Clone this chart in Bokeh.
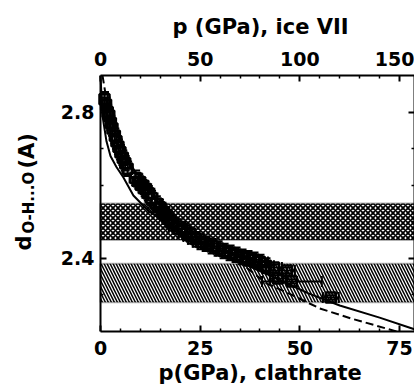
import numpy as np
from bokeh.plotting import figure
from bokeh.models import (Range1d, LinearAxis, FixedTicker, Label, ColumnDataSource, Title,
                          Whisker, TeeHead, BoxAnnotation, CustomJSTickFormatter)
from bokeh.embed import file_html
from bokeh.resources import INLINE

# ---------------- data ----------------
p_clath = [1.0, 1.4, 1.8, 2.2, 2.6, 3.0,
           3.6, 4.0, 4.5, 5.0, 5.6, 6.2, 6.8,
           8.8, 9.6, 10.4, 11.2, 12.0, 12.8,
           14.0, 14.8, 15.6, 16.4, 17.2, 18.0,
           19.2, 20.4, 21.6, 22.8, 24.0, 25.2,
           26.5, 28.0, 29.5, 31.0, 32.5, 34.0, 35.5, 37.0, 38.5, 40.0, 41.5,
           43.5, 44.5, 46.75, 48.0, 57.75]
d_oho = [2.835, 2.82, 2.80, 2.79, 2.77, 2.755,
         2.735, 2.72, 2.705, 2.69, 2.675, 2.66, 2.645,
         2.62, 2.61, 2.60, 2.59, 2.578, 2.565,
         2.55, 2.54, 2.528, 2.518, 2.507, 2.497,
         2.487, 2.48, 2.47, 2.46, 2.452, 2.445,
         2.44, 2.433, 2.427, 2.42, 2.415, 2.41, 2.404, 2.40, 2.396, 2.39, 2.38,
         2.375, 2.345, 2.367, 2.337, 2.293]
p_err = [0.8, 0.8, 0.8, 0.8, 0.8, 0.8,
         1.0, 1.0, 1.0, 1.0, 1.0, 1.0, 1.0,
         1.5, 1.5, 1.5, 1.5, 1.5, 1.5,
         1.5, 1.5, 1.5, 1.5, 1.5, 1.5,
         2.0, 2.0, 2.0, 2.0, 2.0, 2.0,
         2.0, 2.0, 2.0, 2.0, 2.0, 2.0, 2.0, 2.0, 2.0, 2.0, 2.0,
         2.0, 2.0, 2.0, 7.5, 2.0]
d_err = [0.02] * 42 + [0.008, 0.008, 0.008, 0.006, 0.006]

solid_p = [0.0, 0.5, 1.5, 2.5, 4.0, 5.75, 8.25, 12.0, 16.0, 20.0, 25.0, 30.0, 36.0, 40.0,
           44.25, 52.0, 60.0, 70.0, 78.75]
solid_d = [2.9, 2.79, 2.72, 2.68, 2.65, 2.621, 2.572, 2.53, 2.50, 2.47, 2.44, 2.41, 2.385, 2.365,
           2.345, 2.305, 2.271, 2.238, 2.206]

dashed_p = [0.5, 1.25, 2.5, 4.0, 6.0, 9.0, 12.0, 16.0, 20.0, 25.0, 30.0, 36.0, 41.75,
            48.0, 55.0, 63.0, 71.75, 75.0]
dashed_d = [2.9, 2.85, 2.79, 2.74, 2.69, 2.63, 2.58, 2.53, 2.49, 2.45, 2.42, 2.38, 2.331,
            2.30, 2.263, 2.235, 2.208, 2.198]

band_cross = [2.45, 2.55]
band_diag = [2.28, 2.385]

x_bottom_ticks = [0, 25, 50, 75]
x_bottom_minor = [5, 10, 15, 20, 30, 35, 40, 45, 55, 60, 65, 70]
x_top_ticks = [0, 50, 100, 150]
x_top_minor = [10, 20, 30, 40, 60, 70, 80, 90, 110, 120, 130, 140]
y_ticks = [2.4, 2.8]
y_minor = [2.3, 2.5, 2.6, 2.7]

# ---------------- layout constants ----------------
X_MAX = 78.75
Y_MIN, Y_MAX = 2.2, 2.9
FRAME_W, FRAME_H = 414, 256
AXIS_PX = 100                      # screen x of p = 0 (the visible left frame edge)
X_START = -X_MAX * AXIS_PX / (FRAME_W - AXIS_PX)
PX_PER_P = FRAME_W / (X_MAX - X_START)
FONT = "DejaVu Sans"

p = figure(width=416, height=391, frame_width=FRAME_W, frame_height=FRAME_H,
           output_backend="svg", toolbar_location=None,
           x_range=Range1d(X_START, X_MAX), y_range=Range1d(Y_MIN, Y_MAX),
           min_border_left=0, min_border_right=0, min_border_top=75, min_border_bottom=60,
           background_fill_color="white", border_fill_color="white")
p.title.visible = False
p.extra_x_ranges = {"top": Range1d(2 * X_START, 2 * X_MAX)}
p.xgrid.visible = False
p.ygrid.visible = False
p.outline_line_color = None

# bands
p.add_layout(BoxAnnotation(left=0, bottom=band_cross[0], top=band_cross[1], level="underlay",
                           fill_color=None, line_color="black", line_width=2,
                           hatch_pattern="diagonal_cross", hatch_color="black",
                           hatch_scale=5, hatch_weight=1.8))
p.add_layout(BoxAnnotation(left=0, bottom=band_diag[0], top=band_diag[1], level="underlay",
                           fill_color=None, line_color="black", line_width=2,
                           hatch_pattern="left_diagonal_line", hatch_color="black",
                           hatch_scale=6, hatch_weight=1.5))

# curves
p.line(solid_p, solid_d, line_color="black", line_width=2)
p.line(dashed_p, dashed_d, line_color="black", line_width=2, line_dash="8 4")

# data with error bars
pa = np.array(p_clath)
da = np.array(d_oho)
pe = np.array(p_err)
de = np.array(d_err)
src = ColumnDataSource(dict(p=pa, d=da, plo=pa - pe, phi=pa + pe, dlo=da - de, dhi=da + de))
p.add_layout(Whisker(source=src, base="d", lower="plo", upper="phi", dimension="width",
                     line_color="black", line_width=2, level="glyph",
                     upper_head=TeeHead(size=11, line_width=2, line_color="black"),
                     lower_head=TeeHead(size=11, line_width=2, line_color="black")))
p.add_layout(Whisker(source=src, base="p", lower="dlo", upper="dhi", dimension="height",
                     line_color="black", line_width=2, level="glyph",
                     upper_head=TeeHead(size=9, line_width=2, line_color="black"),
                     lower_head=TeeHead(size=9, line_width=2, line_color="black")))
p.scatter("p", "d", source=src, marker="square", size=10, fill_color=None,
          line_color="black", line_width=2.5)


def style(ax):
    ax.axis_line_width = 2
    ax.axis_line_color = "black"
    ax.major_tick_in = 6
    ax.major_tick_out = 0
    ax.minor_tick_in = 3
    ax.minor_tick_out = 0
    ax.major_tick_line_width = 2
    ax.minor_tick_line_width = 1.5
    ax.major_label_text_font = FONT
    ax.major_label_text_font_style = "bold"
    ax.major_label_text_font_size = "19px"
    ax.major_label_text_color = "black"


xb = p.xaxis[0]
xb.ticker = FixedTicker(ticks=x_bottom_ticks, minor_ticks=x_bottom_minor)
xb.bounds = (0, X_MAX)
style(xb)
xb.major_label_standoff = 9

yl = p.yaxis[0]
yl.ticker = FixedTicker(ticks=y_ticks, minor_ticks=y_minor)
yl.fixed_location = 0
style(yl)
yl.major_label_standoff = 6

xt = LinearAxis(x_range_name="top")
xt.ticker = FixedTicker(ticks=x_top_ticks, minor_ticks=x_top_minor)
xt.bounds = (0, 2 * X_MAX)
style(xt)
xt.major_label_standoff = 10
p.add_layout(xt, "above")

yr = LinearAxis()
yr.ticker = FixedTicker(ticks=y_ticks, minor_ticks=y_minor)
style(yr)
yr.formatter = CustomJSTickFormatter(code="return ''")
yr.major_label_standoff = 0
p.add_layout(yr, "right")

# axis titles, left-aligned with a pixel offset so they sit centred over the visible frame
p.add_layout(Title(text="p (GPa), ice VII", align="left", offset=172, standoff=19,
                   text_font=FONT, text_font_style="bold", text_font_size="21px",
                   text_color="black"), "above")
p.add_layout(Title(text="p(GPa), clathrate", align="left", offset=158, standoff=3,
                   text_font=FONT, text_font_style="bold", text_font_size="21px",
                   text_color="black"), "below")


# y-axis title with subscript, placed inside the (extended) frame, left of p = 0
def sx(px):
    return X_START + px / PX_PER_P


def sy(py):
    return Y_MAX - (py - 75) * (Y_MAX - Y_MIN) / FRAME_H


for txt, px, py, fs in [("d", 23, 250, "21px"), ("O-H...O", 28, 233, "15px"), ("(A)", 26, 168, "21px")]:
    p.add_layout(Label(x=sx(px), y=sy(py), text=txt, angle=90, angle_units="deg",
                       text_align="left", text_baseline="alphabetic",
                       text_font=FONT, text_font_style="bold", text_font_size=fs,
                       text_color="black"))

open("out.html", "w").write(file_html(p, INLINE))
